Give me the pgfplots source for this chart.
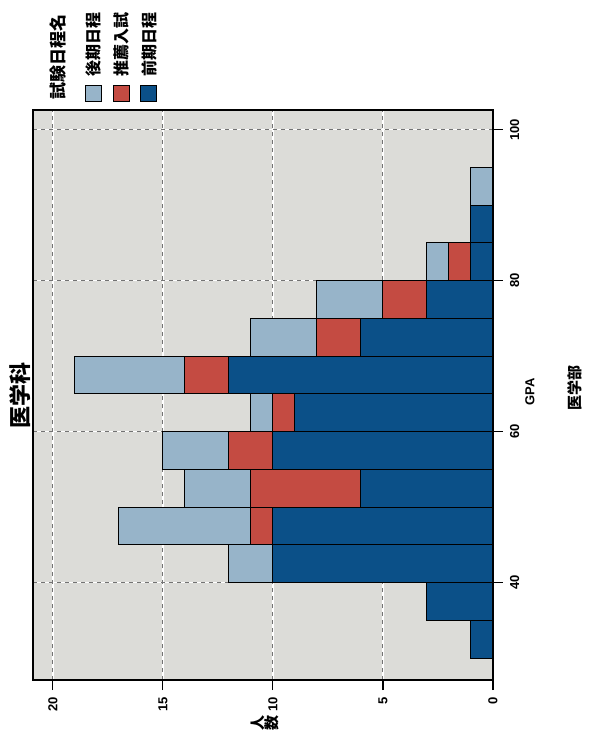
\documentclass[border=0pt]{standalone}
\usepackage{fontspec}
\setmainfont{Liberation Sans}
\newfontfamily\cjk{Noto Sans CJK JP}
\usepackage{graphicx}
\usepackage{pgfplots}
\pgfplotsset{compat=1.18}
\definecolor{zenki}{HTML}{0B5088}
\definecolor{suisen}{HTML}{C44B42}
\definecolor{kouki}{HTML}{97B4C9}
\definecolor{panel}{HTML}{DCDCD8}
\begin{document}
\begin{tikzpicture}
\useasboundingbox (-16.5pt,-30.5pt) rectangle (281pt,340pt);
\begin{axis}[
  at={(0pt,0pt)}, anchor=south west,
  scale only axis, width=230pt, height=285pt,
  xbar stacked, bar width=5,
  x dir=reverse,
  xmin=0, xmax=20.9, ymin=27.1, ymax=102.6,
  xtick={0,5,10,15,20}, ytick={40,60,80,100},
  xtick pos=bottom, xticklabel pos=bottom,
  ytick pos=right, yticklabel pos=right,
  tick align=outside, major tick length=5pt,
  tick style={black, line width=0.6pt},
  axis line style={black, line width=0.8pt},
  axis background/.style={fill=panel},
  grid=major,
  major grid style={white, line width=0.7pt, postaction={draw=black!55, line width=0.45pt, dash pattern=on 2pt off 2pt}},
  /pgf/number format/assume math mode=true,
  ticklabel style={font=\bfseries\fontsize{6.5}{7}\selectfont},
  xticklabel style={rotate=90, anchor=east},
  yticklabel style={rotate=90, anchor=north},
]
% 前期日程
\addplot[fill=zenki, draw=black, line width=0.5pt] coordinates {(1,32.5) (3,37.5) (10,42.5) (10,47.5) (6,52.5) (10,57.5) (9,62.5) (12,67.5) (6,72.5) (3,77.5) (1,82.5) (1,87.5) (0,92.5)};
% 推薦入試
\addplot[fill=suisen, draw=black, line width=0.5pt] coordinates {(0,32.5) (0,37.5) (0,42.5) (1,47.5) (5,52.5) (2,57.5) (1,62.5) (2,67.5) (2,72.5) (2,77.5) (1,82.5) (0,87.5) (0,92.5)};
% 後期日程
\addplot[fill=kouki, draw=black, line width=0.5pt] coordinates {(0,32.5) (0,37.5) (2,42.5) (6,47.5) (3,52.5) (3,57.5) (1,62.5) (5,67.5) (3,72.5) (3,77.5) (1,82.5) (0,87.5) (1,92.5)};
\end{axis}
% titles and axis labels
\node[rotate=90, font=\cjk\bfseries\fontsize{11}{12}\selectfont] at (-6.5pt,142.5pt) {医学科};
\node[font=\cjk\bfseries\fontsize{7.5}{8}\selectfont, inner sep=0pt] at (116pt,-21.5pt) {\rotatebox{90}{人}\rotatebox{90}{数}};
\node[rotate=90, font=\bfseries\fontsize{6.5}{7}\selectfont] at (248.5pt,144pt) {GPA};
\node[rotate=90, font=\cjk\bfseries\fontsize{7.5}{8}\selectfont] at (271pt,146pt) {医学部};
% legend
\node[rotate=90, anchor=west, inner sep=0pt, font=\cjk\bfseries\fontsize{8.5}{9}\selectfont] at (12.5pt,290pt) {試験日程名};
\draw[fill=kouki, draw=black, line width=0.5pt] (26.25pt,289pt) rectangle (34.25pt,297pt);
\draw[fill=suisen, draw=black, line width=0.5pt] (40.25pt,289pt) rectangle (48.25pt,297pt);
\draw[fill=zenki, draw=black, line width=0.5pt] (54pt,289pt) rectangle (62pt,297pt);
\node[rotate=90, anchor=west, inner sep=0pt, font=\cjk\bfseries\fontsize{8}{9}\selectfont] at (30.25pt,301.5pt) {後期日程};
\node[rotate=90, anchor=west, inner sep=0pt, font=\cjk\bfseries\fontsize{8}{9}\selectfont] at (44.25pt,301.5pt) {推薦入試};
\node[rotate=90, anchor=west, inner sep=0pt, font=\cjk\bfseries\fontsize{8}{9}\selectfont] at (58pt,301.5pt) {前期日程};
\end{tikzpicture}
\end{document}
